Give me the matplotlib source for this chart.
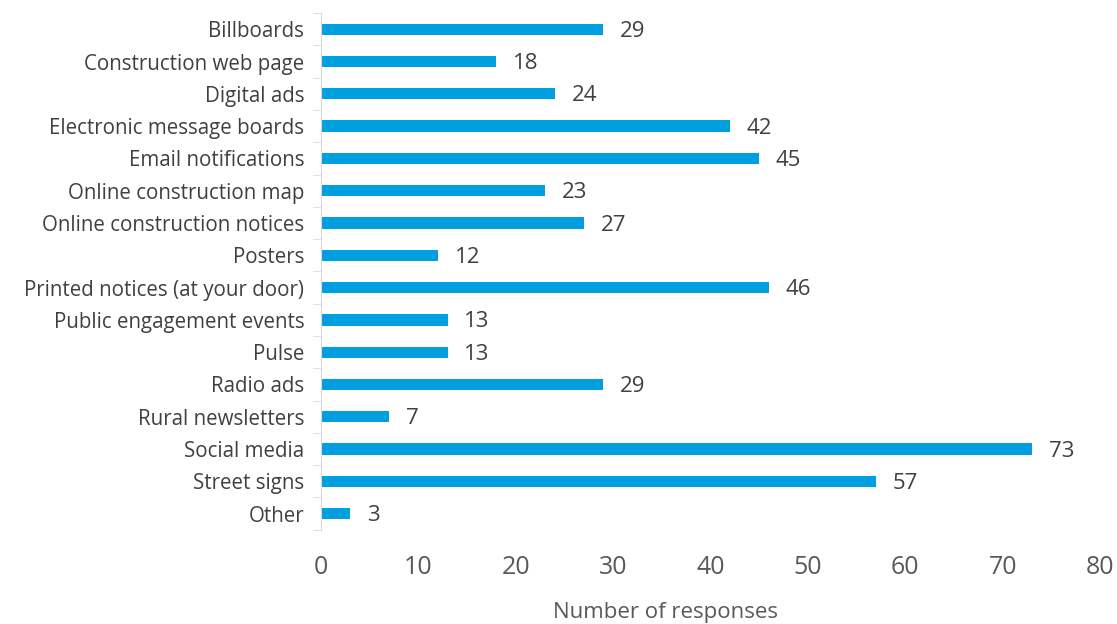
import matplotlib
matplotlib.use("Agg")
import matplotlib.pyplot as plt

categories = ["Billboards", "Construction web page", "Digital ads", "Electronic message boards",
              "Email notifications", "Online construction map", "Online construction notices",
              "Posters", "Printed notices (at your door)", "Public engagement events", "Pulse",
              "Radio ads", "Rural newsletters", "Social media", "Street signs", "Other"]
values = [29, 18, 24, 42, 45, 23, 27, 12, 46, 13, 13, 29, 7, 73, 57, 3]
xticks = [0, 10, 20, 30, 40, 50, 60, 70, 80]

plt.rcParams['font.family'] = ['Open Sans', 'DejaVu Sans']

fig = plt.figure(figsize=(11.17, 6.24), dpi=100)
ax = fig.add_axes([0.2874, 0.151, 0.6974, 0.828])

y = list(range(len(categories)))
ax.barh(y, values, height=0.35, color='#009FDF')
ax.set_ylim(len(categories) - 0.5, -0.5)
ax.set_xlim(0, 80)

for yi, v in zip(y, values):
    ax.annotate(str(v), (v, yi), xytext=(12, -1.5), textcoords='offset points',
                va='center', ha='left', fontsize=16, color='#404040')

ax.set_yticks(y)
ax.set_yticklabels(categories, fontsize=14.8, color='#404040')
ax.set_yticks([i - 0.5 for i in range(len(categories) + 1)], minor=True)
ax.tick_params(axis='y', which='major', length=0, pad=12)
ax.tick_params(axis='y', which='minor', length=6, color='#D9D9D9', direction='out')

ax.set_xticks(xticks)
ax.set_xticklabels([str(t) for t in xticks], fontsize=18, color='#595959')
ax.tick_params(axis='x', length=0, pad=18)

for s in ['top', 'right', 'bottom']:
    ax.spines[s].set_visible(False)
ax.spines['left'].set_color('#D9D9D9')

ax.set_xlabel("Number of responses", fontsize=16, color='#595959')
ax.xaxis.set_label_coords(0.442, -0.16)
ax.xaxis.label.set_va('center')

fig.savefig("out.png", dpi=100)
